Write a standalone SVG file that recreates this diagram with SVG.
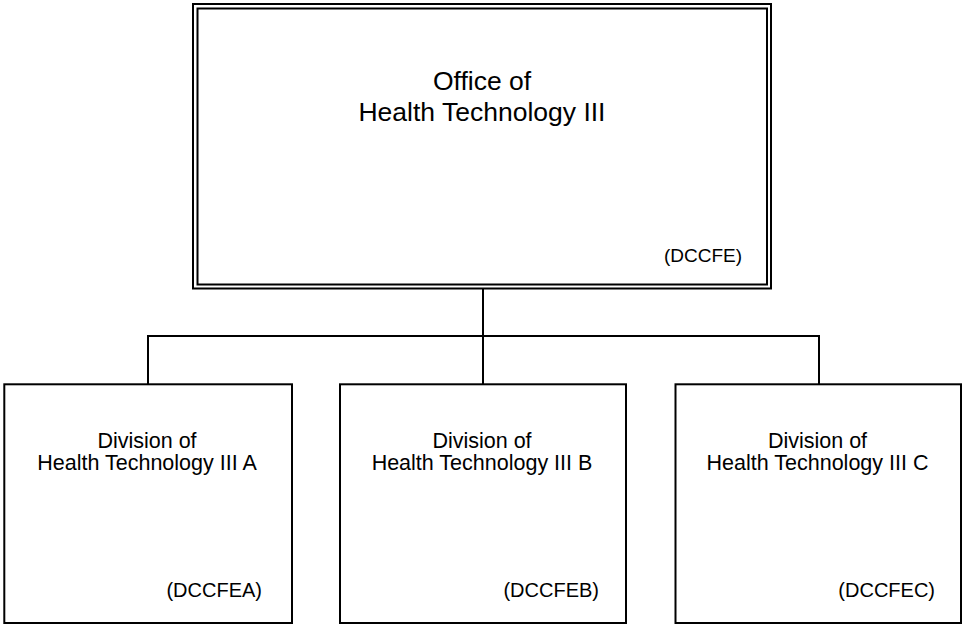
<svg xmlns="http://www.w3.org/2000/svg" width="963" height="624" viewBox="0 0 963 624">
<style>
.box{fill:#fff;stroke:#000;stroke-width:2}
.dbl{fill:none;stroke:#000;stroke-width:2}
.conn{fill:none;stroke:#000;stroke-width:2}
text{font-family:"Liberation Sans",Arial,sans-serif;fill:#000}
.t1{font-size:26.5px;text-anchor:middle}
.t2{font-size:21.5px;text-anchor:middle}
.c1{font-size:19px;text-anchor:end}
.c2{font-size:20px;text-anchor:end}
</style>
<rect width="963" height="624" fill="#fff"/>
<g id="connectors">
<path class="conn" d="M483 289V384M148 384V336H819V384"/>
</g>
<g id="office">
<rect class="dbl" x="193" y="4" width="578" height="284.5" stroke-width="2.5"/>
<rect class="dbl" x="197.5" y="8.5" width="569.5" height="276"/>
<text class="t1" x="482" y="89.5">Office of</text>
<text class="t1" x="482" y="121">Health Technology III</text>
<text class="c1" x="742" y="262">(DCCFE)</text>
</g>
<g id="divA">
<rect class="box" x="4.3" y="384.3" width="287.7" height="238.7"/>
<text class="t2" x="147" y="447.5">Division of</text>
<text class="t2" x="147" y="470">Health Technology III A</text>
<text class="c2" x="262" y="597">(DCCFEA)</text>
</g>
<g id="divB">
<rect class="box" x="340" y="384.3" width="286" height="238.7"/>
<text class="t2" x="482" y="447.5">Division of</text>
<text class="t2" x="482" y="470">Health Technology III B</text>
<text class="c2" x="599" y="597">(DCCFEB)</text>
</g>
<g id="divC">
<rect class="box" x="675.5" y="384.3" width="285.5" height="238.7"/>
<text class="t2" x="817.5" y="447.5">Division of</text>
<text class="t2" x="817.5" y="470">Health Technology III C</text>
<text class="c2" x="935" y="597">(DCCFEC)</text>
</g>
</svg>
